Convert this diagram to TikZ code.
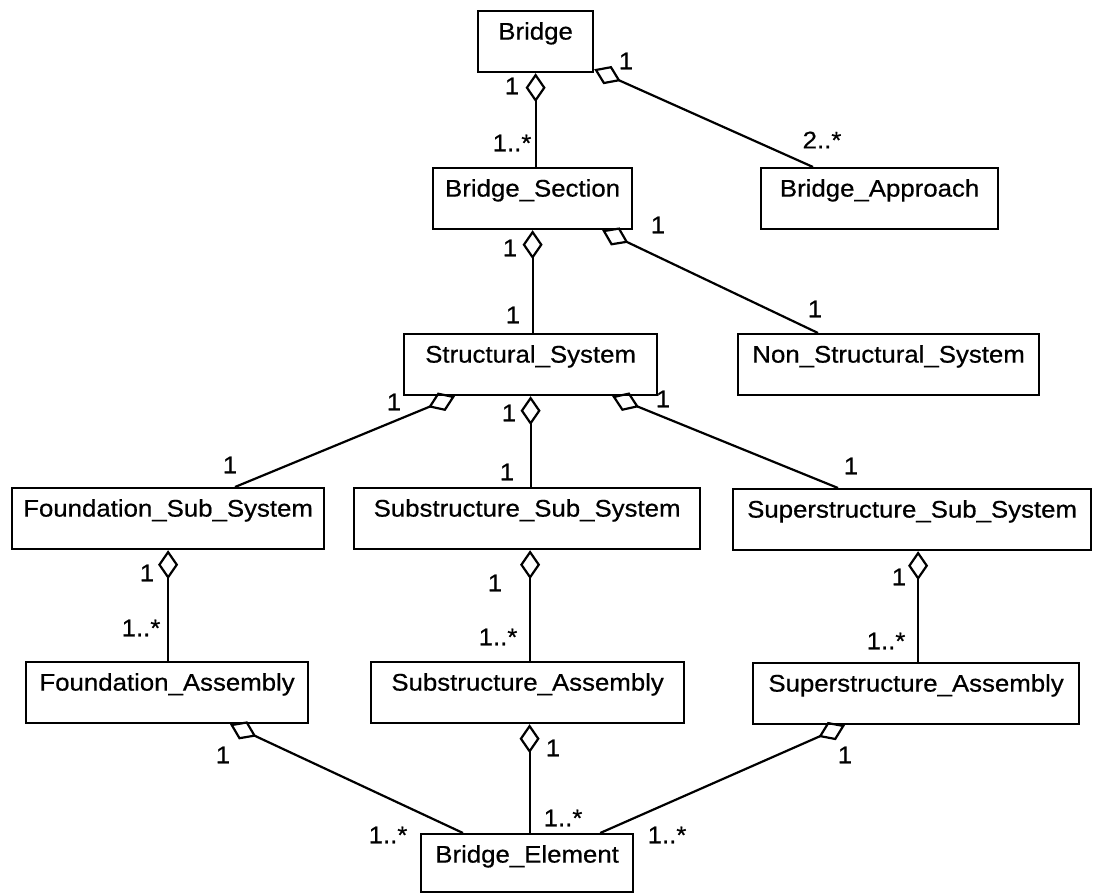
\documentclass[tikz,border=0pt]{standalone}
\usepackage{fontspec}
\newfontfamily\umlfont{Liberation Sans}[FakeStretch=1.075,FakeBold=0.6]
\usetikzlibrary{arrows.meta,calc}

\begin{document}
\begin{tikzpicture}[x=1pt,y=-1pt,
  umltext/.style={font=\umlfont\fontsize{24}{28}\selectfont},
  cls/.style={umltext, draw, line width=2.2pt, fill=white, anchor=north west,
    inner xsep=0pt, inner ysep=0pt, text height=28.5pt, text depth=32.5pt},
  agg/.style={line width=2.2pt, line join=miter,
    arrows={Diamond[open,length=29pt,width=20pt]-}},
  mult/.style={umltext, inner sep=0pt}
]
\useasboundingbox[fill=white] (0,0) rectangle (1093,894);

% classes
\node[cls, minimum width=115pt] (bridge)     at (477,10)  {Bridge};
\node[cls, minimum width=199pt] (section)    at (432,167) {Bridge\_Section};
\node[cls, minimum width=237pt] (approach)   at (760,167) {Bridge\_Approach};
\node[cls, minimum width=253pt] (structural) at (403,333) {Structural\_System};
\node[cls, minimum width=301pt] (nonstruct)  at (737,333) {Non\_Structural\_System};
\node[cls, minimum width=312pt] (foundsub)   at (11,487)  {Foundation\_Sub\_System};
\node[cls, minimum width=346pt] (subsub)     at (353,487) {Substructure\_Sub\_System};
\node[cls, minimum width=358pt] (supsub)     at (732,488) {Superstructure\_Sub\_System};
\node[cls, minimum width=282pt] (foundasm)   at (25,661)  {Foundation\_Assembly};
\node[cls, minimum width=313pt] (subasm)     at (370,661) {Substructure\_Assembly};
\node[cls, minimum width=326pt] (supasm)     at (752,662) {Superstructure\_Assembly};
\node[cls, minimum width=212pt, text depth=29.5pt] (element) at (420,833) {Bridge\_Element};

% aggregations (diamond at the whole)
\draw[agg] (bridge.south) -- (bridge.south |- section.north);
\draw[agg] ([yshift=4pt]bridge.south east) -- ([xshift=53pt]approach.north west);
\draw[agg] (section.south) -- (section.south |- structural.north);
\draw[agg] ([xshift=-31pt]section.south east) -- ([xshift=81pt]nonstruct.north west);
\draw[agg] ([xshift=52pt]structural.south west) -- ([xshift=224pt]foundsub.north west);
\draw[agg] (structural.south) -- (structural.south |- subsub.north);
\draw[agg] ([xshift=-46pt]structural.south east) -- ([xshift=106pt]supsub.north west);
\draw[agg] (foundsub.south) -- (foundsub.south |- foundasm.north);
\draw[agg] ([xshift=3pt]subsub.south) -- ([xshift=3pt]subsub.south |- subasm.north);
\draw[agg] ([xshift=6pt]supsub.south) -- ([xshift=6pt]supsub.south |- supasm.north);
\draw[agg] ([xshift=205pt]foundasm.south west) -- ([xshift=43pt]element.north west);
\draw[agg] ([xshift=2pt]subasm.south) -- ([xshift=2pt]subasm.south |- element.north);
\draw[agg] ([xshift=93pt]supasm.south west) -- ([xshift=-34pt]element.north east);

% multiplicities
\node[mult] (m1)  at (512,86)  {1};
\node[mult] (m2)  at (512,143) {1..*};
\node[mult] (m3)  at (626,61)  {1};
\node[mult] (m4)  at (822,140) {2..*};
\node[mult] (m5)  at (510,248) {1};
\node[mult] (m6)  at (513,315) {1};
\node[mult] (m7)  at (658,225) {1};
\node[mult] (m8)  at (815,309) {1};
\node[mult] (m9)  at (394,402) {1};
\node[mult] (m10) at (230,465) {1};
\node[mult] (m11) at (509,413) {1};
\node[mult] (m12) at (507,472) {1};
\node[mult] (m13) at (663,399) {1};
\node[mult] (m14) at (851,466) {1};
\node[mult] (m15) at (147,573) {1};
\node[mult] (m16) at (141,628) {1..*};
\node[mult] (m17) at (495,583) {1};
\node[mult] (m18) at (498,637) {1..*};
\node[mult] (m19) at (899,577) {1};
\node[mult] (m20) at (886,641) {1..*};
\node[mult] (m21) at (223,755) {1};
\node[mult] (m22) at (388,835) {1..*};
\node[mult] (m23) at (553,748) {1};
\node[mult] (m24) at (563,818) {1..*};
\node[mult] (m25) at (845,755) {1};
\node[mult] (m26) at (667,835) {1..*};
\end{tikzpicture}
\end{document}
